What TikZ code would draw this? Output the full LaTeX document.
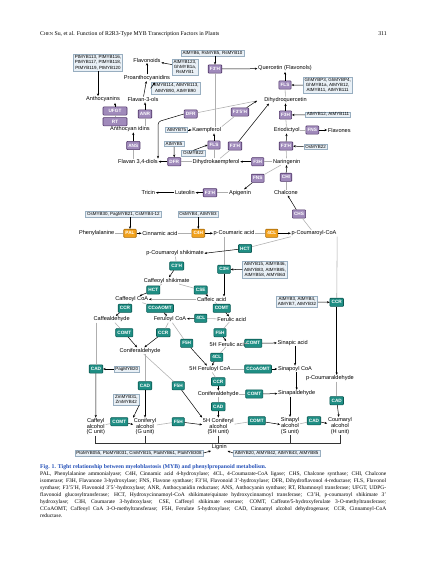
\documentclass[tikz,border=0pt]{standalone}
\usepackage{fontspec}
\setmainfont{Liberation Serif}
\setsansfont{Liberation Sans}
\usetikzlibrary{arrows.meta,calc}
\definecolor{purpF}{HTML}{A08ABB}
\definecolor{purpD}{HTML}{4F3468}
\definecolor{tealF}{HTML}{1F8E84}
\definecolor{tealD}{HTML}{0C5A54}
\definecolor{orgF}{HTML}{F2A21E}
\definecolor{orgD}{HTML}{A86A08}
\definecolor{mybF}{HTML}{E9F0F6}
\definecolor{mybD}{HTML}{98AEC0}
\definecolor{lineG}{HTML}{AFAFAF}
\definecolor{capBlue}{HTML}{2450B8}
\tikzset{
 met/.style={font=\sffamily\fontsize{5.6}{6.2}\selectfont, inner sep=0.6pt, align=center},
 alc/.style={font=\sffamily\fontsize{5.6}{5.7}\selectfont, inner sep=0.6pt, align=center},
 enz/.style={rounded corners=0.8pt, line width=0.6pt, text=white, font=\sffamily\bfseries\fontsize{4.7}{5}\selectfont, inner xsep=1.7pt, inner ysep=0pt, minimum height=8.2pt},
 pe/.style={enz, fill=purpF, draw=purpD},
 te/.style={enz, fill=tealF, draw=tealD},
 oe/.style={enz, fill=orgF, draw=orgD},
 myb/.style={fill=mybF, draw=mybD, line width=0.5pt, font=\sffamily\fontsize{4.5}{5.4}\selectfont, inner xsep=1.5pt, inner ysep=1pt, align=center},
 gl/.style={draw=lineG, line width=0.55pt},
 ar/.style={draw=black, line width=0.5pt, -{Stealth[length=2.6pt,width=2.2pt]}},
 gar/.style={draw=lineG, line width=0.55pt, -{Stealth[length=2.6pt,width=2.2pt,color=black]}},
 brk/.style={draw=black!80, line width=0.5pt},
}
\begin{document}
\begin{tikzpicture}[x=1pt,y=-1pt]
\useasboundingbox[fill=white] (0,0) rectangle (427,562);

% header
\node[anchor=base west, inner sep=0, font=\rmfamily\fontsize{5.8}{7}\selectfont] (hdr) at (40,35) {C{\fontsize{4.4}{5}\selectfont HEN} Su, et al. Function of R2R3-Type MYB Transcription Factors in Plants};
\node[anchor=base east, inner sep=0, font=\rmfamily\fontsize{5.8}{7}\selectfont] (pg) at (387,35) {311};

% metabolites
\node[met] (flavonoids) at (147,60) {Flavonoids};
\node[met] (quercetin) at (285,68.5) {Quercetin (Flavonols)};
\node[met] (proanth) at (147,77.7) {Proanthocyanidins};
\node[met] (anthocyanins) at (103,99.5) {Anthocyanins};
\node[met] (flavan3ols) at (143,99.5) {Flavan-3-ols};
\node[met] (dihydroq) at (285.5,100) {Dihydroquercetin};
\node[met] (anthocyanidins) at (130,129) {Anthocyan idins};
\node[met] (kaempferol) at (206.7,130) {Kaempferol};
\node[met] (eriodictyol) at (286.7,130) {Eriodictyol};
\node[met] (flavones) at (339.3,130) {Flavones};
\node[met] (flavan34) at (138,161.7) {Flavan 3,4-diols};
\node[met] (dihydrok) at (216,161.7) {Dihydrokaempferol};
\node[met] (naringenin) at (286.7,161.7) {Naringenin};
\node[met] (tricin) at (148.3,192.7) {Tricin};
\node[met] (luteolin) at (185,192.7) {Luteolin};
\node[met] (apigenin) at (240,192.7) {Apigenin};
\node[met] (chalcone) at (286,192.7) {Chalcone};
\node[met] (phe) at (96.7,233.3) {Phenylalanine};
\node[met] (cinnamic) at (160,233.3) {Cinnamic acid};
\node[met] (pcoumaric) at (234,233.3) {p-Coumaric acid};
\node[met] (pccoa) at (314,233.3) {p-Coumaroyl-CoA};
\node[met] (pcshik) at (175,253.3) {p-Coumaroyl shikimate};
\node[met] (caffshik) at (166.7,280.7) {Caffeoyl shikimate};
\node[met] (caffcoa) at (131.7,299.3) {Caffeoyl CoA};
\node[met] (caffeic) at (211.7,299.3) {Caffeic acid};
\node[met] (caffald) at (111.7,319.3) {Caffealdehyde};
\node[met] (ferucoa) at (170,319.3) {Feruloyl CoA};
\node[met] (ferulic) at (231.7,319.3) {Ferulic acid};
\node[met] (conald) at (140,350.7) {Coniferaldehyde};
\node[met] (hferulic) at (228.3,344) {5H Ferulic acid};
\node[met] (sinapic) at (292.7,342.7) {Sinapic acid};
\node[met] (hferucoa) at (210,369) {5H Feruloyl CoA};
\node[met] (sinapcoa) at (295,369) {Sinapoyl CoA};
\node[met] (pcald) at (330,378.3) {p-Coumaraldehyde};
\node[met] (hconald) at (218.3,394) {Coniferaldehyde};
\node[met] (sinapald) at (296.7,393.3) {Sinapaldehyde};
\node[alc] (caffalc) at (95.7,426.7) {Caffeyl\\alcohol\\(C unit)};
\node[alc] (conalc) at (145,426.7) {Coniferyl\\alcohol\\(G unit)};
\node[alc] (hconalc) at (218.3,426.7) {5H Coniferyl\\alcohol\\(5H unit)};
\node[alc] (sinalc) at (290,426) {Sinapyl\\alcohol\\(S unit)};
\node[alc] (coualc) at (340,426) {Coumaryl\\alcohol\\(H unit)};
\node[met] (lignin) at (219.3,447.5) {Lignin};

% enzymes purple
\node[pe, minimum width=24pt] (ufgt) at (115,111) {UFGT};
\node[pe, minimum width=24pt] (rt) at (115,121.7) {RT};
\node[pe] (anr) at (145,114) {ANR};
\node[pe] (dfra) at (190.7,114) {DFR};
\node[pe] (f3ha) at (215,69) {F3'H};
\node[pe] (flsa) at (285,85) {FLS};
\node[pe] (f35h) at (240,112) {F3'5'H};
\node[pe] (f3hb) at (285.5,115) {F3H};
\node[pe] (ans) at (133.3,145.5) {ANS};
\node[pe] (flsb) at (214,145) {FLS};
\node[pe] (f3hc) at (235,146) {F3'H};
\node[pe] (f3hd) at (286,146) {F3'H};
\node[pe] (dfrb) at (174.3,161.7) {DFR};
\node[pe] (f3he) at (257.7,161.7) {F3H};
\node[pe] (fnsa) at (312.3,130) {FNS};
\node[pe] (chi) at (286,177.3) {CHI};
\node[pe] (fnsb) at (257.7,178.3) {FNS};
\node[pe] (f3hf) at (210,192.7) {F3'H};
\node[pe] (chs) at (299,214) {CHS};
% orange
\node[oe] (pal) at (130,233.3) {PAL};
\node[oe] (c4h) at (198.3,233.3) {C4H};
\node[oe] (fcla) at (271.7,233.3) {4CL};
% teal
\node[te] (hcta) at (245,248.5) {HCT};
\node[te] (c3ph) at (176.7,266) {C3'H};
\node[te] (c3h) at (224,269.3) {C3H};
\node[te] (hctb) at (153.3,290) {HCT};
\node[te] (cse) at (200.7,290) {CSE};
\node[te] (ccra) at (125,308.3) {CCR};
\node[te] (ccoa) at (160,308.3) {CCoAOMT};
\node[te] (comta) at (221.7,308.3) {COMT};
\node[te] (fclb) at (200.7,318.3) {4CL};
\node[te] (comtb) at (124.3,332.7) {COMT};
\node[te] (ccrb) at (163.3,332.7) {CCR};
\node[te] (f5ha) at (220,332.7) {F5H};
\node[te] (f5hb) at (186.7,343.3) {F5H};
\node[te] (comtc) at (253.3,343.3) {COMT};
\node[te] (fclc) at (216.7,357.3) {4CL};
\node[te] (cada) at (96,369) {CAD};
\node[te] (ccob) at (258,369) {CCoAOMT};
\node[te] (ccrc) at (218.3,381.7) {CCR};
\node[te] (cadb) at (145,385.7) {CAD};
\node[te] (f5hc) at (178.3,385.7) {F5H};
\node[te] (comtd) at (254.3,394) {COMT};
\node[te] (cadc) at (218.3,406.7) {CAD};
\node[te] (comte) at (119.3,421.7) {COMT};
\node[te] (f5hd) at (178.3,421.7) {F5H};
\node[te] (comtf) at (256.7,420.7) {COMT};
\node[te] (cadd) at (314,420.7) {CAD};
\node[te] (cade) at (336.7,400.7) {CAD};
\node[te] (ccrd) at (336.7,302.3) {CCR};

% MYB boxes
\node[myb] (m1) at (98,62.5) {PtMYB113, PtMYB116,\\PtMYB117, PtMYB118,\\PtMYB119, PtMYB120};
\node[myb] (m2) at (212.5,53) {AtMYB6, RsMYB5, RsMYB10};
\node[myb] (m3) at (185,67) {AtMYB123,\\GhMYB1a,\\RsMYB1};
\node[myb] (m4) at (175.5,88.3) {AtMYB114, AtMYB113,\\AtMYB90, AtMYB90};
\node[myb] (m5) at (327.7,85.2) {GhMYBP3, GhMYBP4,\\GhMYB1a, AtMYB12,\\AtMYB11, AtMYB111};
\node[myb] (m6) at (328,114.7) {AtMYB12, AtMYB111};
\node[myb] (m7) at (176.7,130) {AtMYB75};
\node[myb] (m8) at (174,144) {AtMYB5};
\node[myb] (m9) at (193.3,153.2) {OsMYB22};
\node[myb] (m10) at (315.7,146.7) {OsMYB22};
\node[myb] (m11) at (123.3,214.2) {OsMYB30, PagMYB21, CsMYB4-12};
\node[myb] (m12) at (198,214.2) {OsMYB4, AtMYB3};
\node[myb] (m13) at (265,270) {AtMYB15, AtMYB46,\\AtMYB83, AtMYB85,\\AtMYB58, AtMYB63};
\node[myb] (m14) at (297,302) {AtMYB3, AtMYB4,\\AtMYB7, AtMYB32};
\node[myb] (m15) at (126.7,369) {PagMYB20};
\node[myb] (m16) at (126.3,399.5) {ZmMYB31,\\ZmMYB42};
\node[myb] (m17) at (139,453) {PtoMYB055, PtoMYB031, CmMYB15, PtoMYB61, PtoMYB308};
\node[myb] (m18) at (276.7,453) {AtMYB20, AtMYB42, AtMYB43, AtMYB85};

% helper coordinates
\coordinate (pa) at (155,82.5);
\coordinate (dfrc) at (158,121.7);
\coordinate (dq2) at (269,103.5);
\coordinate (dq1) at (257,100.8);

% ---- flavonoid connectors
\draw[ar] (f3ha |- m2.south) -- (f3ha);
\draw[gl] (kaempferol.north -| f3ha) -- (f3ha);
\draw[ar] (f3ha) -- (quercetin);
\draw[gl] (dihydroq) -- (flsa);
\draw[ar] (flsa) -- (quercetin);
\draw[ar] (m5) -- (flsa);
\draw[ar] (m3) -- (flavonoids);
\draw[ar] (proanth) -- (flavonoids);
\draw[ar] (flavan3ols) -- (proanth);
\draw[ar] (m4.west) -- (pa);
\draw[ar] (m1) -- (m1.south |- anthocyanins.north);
\draw[gl] (anthocyanidins.north -| rt) -- (rt);
\draw[gl] (rt) -- (ufgt);
\draw[ar] (ufgt) -- (ufgt |- anthocyanins.south);
\draw[gl] (anthocyanidins.north -| anr) -- (anr);
\draw[ar] (anr) -- (anr |- flavan3ols.south);
\draw[gl] (flavan34.north -| ans) -- (ans);
\draw[ar] (ans) -- (ans |- anthocyanidins.south);
\draw[gl] (dq1) -- (dfra);
\draw[ar, rounded corners=3pt] (dfra.west) -- (dfrc) -- (dfrc |- flavan34.north);
\draw[gl] (kaempferol.north east) -- (f35h);
\draw[ar] (f35h) -- (dq1);
\draw[gl] (dihydrok) -- (f3hc);
\draw[ar] (f3hc) -- (dq2);
\draw[ar] (m7) -- (kaempferol);
\draw[gl] (dihydrok.north -| flsb) -- (flsb);
\draw[ar] (flsb) -- (flsb |- kaempferol.south);
\draw[ar] (m9.north) -- (flsb.west);
\draw[ar] (m8) -- (dfrb);
\draw[gl] (dihydrok) -- (dfrb);
\draw[ar] (dfrb) -- (flavan34);
\draw[gl] (naringenin) -- (f3he);
\draw[ar] (f3he) -- (dihydrok);
\draw[gl] (naringenin) -- (f3hd);
\draw[ar] (f3hd) -- (eriodictyol);
\draw[ar] (m10) -- (f3hd);
\draw[gl] (eriodictyol) -- (f3hb);
\draw[ar] (f3hb) -- (dihydroq);
\draw[ar] (m6) -- (f3hb);
\draw[gl] (eriodictyol) -- (fnsa);
\draw[ar] (fnsa) -- (flavones);
\draw[gl] (naringenin) -- (fnsb);
\draw[ar] (fnsb) -- (apigenin);
\draw[gl] (apigenin) -- (f3hf);
\draw[ar] (f3hf) -- (luteolin);
\draw[ar] (luteolin) -- (tricin);
\draw[gl] (chalcone) -- (chi);
\draw[ar] (chi) -- (naringenin);
\draw[gl] (pccoa) -- (chs);
\draw[ar] (chs) -- (chalcone);

% ---- phenylpropanoid connectors
\draw[ar] (m11.south -| pal) -- (pal);
\draw[ar] (m12.south -| c4h) -- (c4h);
\draw[gl] (phe) -- (pal);
\draw[ar] (pal) -- (cinnamic);
\draw[gl] (cinnamic) -- (c4h);
\draw[ar] (c4h) -- (pcoumaric);
\draw[gl] (pcoumaric) -- (fcla);
\draw[ar] (fcla) -- (pccoa);
\draw[gl] (c3h |- pcoumaric.south) -- (c3h);
\draw[ar] (c3h) -- (c3h |- caffeic.north);
\draw[gl] (pccoa.south west) -- (hcta);
\draw[ar] (hcta) -- (pcshik.east);
\draw[ar] (m13) -- (c3h);
\draw[gl] (pcshik) -- (c3ph);
\draw[ar] (c3ph) -- (caffshik);
\draw[gl] (caffshik) -- (hctb);
\draw[ar] (hctb) -- (caffcoa);
\draw[gl] (caffshik) -- (cse);
\draw[ar] (cse) -- (caffeic);
\draw[gar] (caffeic) -- (caffcoa);
\draw[gl] (caffcoa) -- (ccra);
\draw[ar] (ccra) -- (caffald);
\draw[gl] (caffcoa) -- (ccoa);
\draw[ar] (ccoa) -- (ferucoa);
\draw[gl] (caffeic) -- (comta);
\draw[ar] (comta) -- (ferulic);
\draw[gl] (ferulic) -- (fclb);
\draw[ar] (fclb) -- (ferucoa);
\draw[gl] (caffald) -- (comtb);
\draw[ar] (comtb) -- (conald);
\draw[gl] (ferucoa) -- (ccrb);
\draw[ar] (ccrb) -- (conald);
\draw[gl] (ferulic) -- (f5ha);
\draw[ar] (f5ha) -- (hferulic);
\draw[gl] (ferucoa) -- (f5hb);
\draw[ar] (f5hb) -- (hferucoa);
\draw[gl] (hferulic) -- (comtc);
\draw[ar] (comtc) -- (sinapic);
\draw[gl] (hferulic) -- (fclc);
\draw[ar] (fclc) -- (hferucoa);
\draw[gl] (hferucoa) -- (ccob);
\draw[ar] (ccob) -- (sinapcoa);
\draw[ar] (sinapic.south -| sinapcoa) -- (sinapcoa);
\draw[ar] (sinapcoa.south -| sinapald) -- (sinapald);
\draw[ar] (sinapald.south -| sinalc) -- (sinalc);
\draw[gl] (hferucoa) -- (ccrc);
\draw[ar] (ccrc) -- (hconald);
\draw[gl] (hconald) -- (cadc);
\draw[ar] (cadc) -- (hconalc);
\draw[gl] (hconald) -- (comtd);
\draw[ar] (comtd) -- (sinapald);
\draw[gl] (hconalc) -- (comtf);
\draw[ar] (comtf) -- (sinalc);
\draw[gl] (sinalc) -- (cadd);
\draw[ar] (cadd) -- (coualc);
\draw[gl] (caffald.south -| cada) -- (cada);
\draw[ar] (cada) -- (caffalc);
\draw[ar] (m15) -- (cada);
\draw[gl] (conald.south -| cadb) -- (cadb);
\draw[ar] (cadb) -- (conalc.north -| cadb);
\draw[gl] (conald) -- (f5hc);
\draw[ar] (f5hc) -- (hconalc.north west);
\draw[ar] (m16.south east) -- (conalc.north west);
\draw[gl] (caffalc) -- (comte);
\draw[ar] (comte) -- (conalc);
\draw[gl] (conalc) -- (f5hd);
\draw[ar] (f5hd) -- (hconalc);
\draw[gl] (pccoa.east |- pccoa.south) -- (ccrd);
\draw[ar] (ccrd) -- (ccrd |- pcald.north);
\draw[ar] (m14) -- (ccrd);
\draw[gl] (pcald.south -| cade) -- (cade);
\draw[ar] (cade) -- (coualc);

% lignin bracket
\coordinate (bl) at (95.7,443.3);
\coordinate (br) at (340,443.3);
\draw[brk] (caffalc.south) -- (caffalc.south |- bl) -- (br) -- (coualc.south);
\draw[brk] (conalc.south) -- (conalc.south |- bl);
\draw[brk] (hconalc.south) -- (hconalc.south |- bl);
\draw[brk] (sinalc.south) -- (sinalc.south |- bl);
\draw[ar] (m17.east) -- (lignin.south west);
\draw[ar] (m18.west) -- (lignin.south east);

% caption
\node[anchor=base west, inner sep=0, font=\rmfamily\bfseries\fontsize{5.8}{7}\selectfont, text=capBlue] (cap) at (40,468.6) {Fig. 1. Tight relationship between myeloblastosis (MYB) and phenylpropanoid metabolism.};
\node[anchor=north west, inner sep=0, text width=346pt, align=justify, font=\rmfamily\fontsize{5.5}{7.1}\selectfont] (body) at (40,471.3) {PAL, Phenylalanine ammonialyase; C4H, Cinnamic acid 4-hydroxylase; 4CL, 4-Coumarate-CoA ligase; CHS, Chalcone synthase; CHI, Chalcone\linebreak
isomerase; F3H, Flavanone 3-hydroxylase; FNS, Flavone synthase; F3'H, Flavonoid 3'-hydroxylase; DFR, Dihydroflavonol 4-reductase; FLS, Flavonol\linebreak
synthase; F3'5'H, Flavonoid 3'5'-hydroxylase; ANR, Anthocyanidin reductase; ANS, Anthocyanin synthase; RT, Rhamnosyl transferase; UFGT, UDPG-\linebreak
flavonoid glucosyltransferase; HCT, Hydroxycinnamoyl-CoA shikimate/quinate hydroxycinnamoyl transferase; C3'H, p-coumaroyl shikimate 3'\linebreak
hydroxylase; C3H, Coumarate 3-hydroxylase; CSE, Caffeoyl shikimate esterase; COMT, Caffeate/5-hydroxyferulate 3-O-methyltransferase;\linebreak
CCoAOMT, Caffeoyl CoA 3-O-methyltransferase; F5H, Ferulate 5-hydroxylase; CAD, Cinnamyl alcohol dehydrogenase; CCR, Cinnamoyl-CoA\linebreak
reductase.};
\end{tikzpicture}
\end{document}
